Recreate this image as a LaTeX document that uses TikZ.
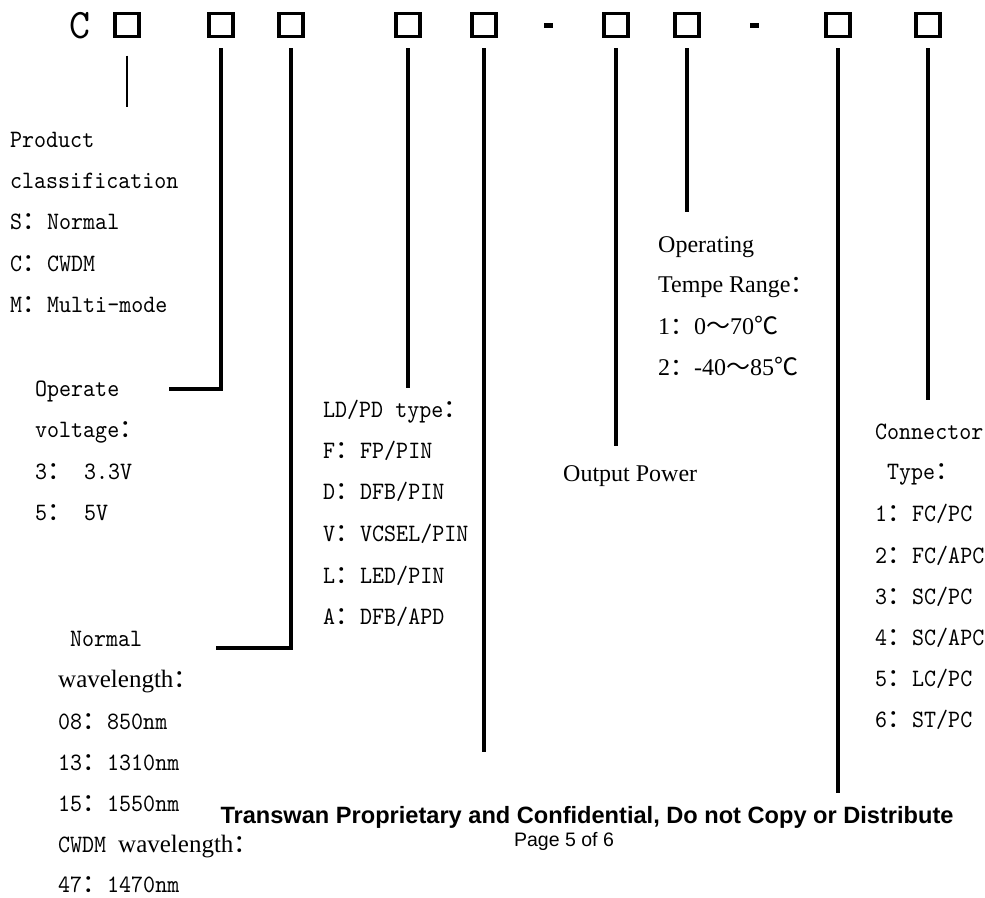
\documentclass[tikz,border=0pt]{standalone}
\usepackage{fontspec}
\usetikzlibrary{positioning}
\usetikzlibrary{calc}
\setmainfont{Liberation Serif}
\setsansfont{Liberation Sans}
\newfontfamily\codefont[FakeStretch=0.915]{lmmono10-regular.otf}
\newfontfamily\codebig[FakeStretch=0.95]{lmmono10-regular.otf}
\newfontfamily\cjk{Noto Sans CJK SC}
\newcommand{\fc}{\smash{\cjk ：}}
\newcommand{\wave}{\smash{\cjk ～}}
\newcommand{\degc}{\smash{\cjk ℃}}
\tikzstyle{slot}=[rectangle,draw,line width=3.2pt,minimum width=24pt,minimum height=23pt,inner sep=0pt]
\tikzstyle{dashbar}=[rectangle,fill=black,minimum width=9pt,minimum height=5pt,inner sep=0pt]
\tikzstyle{lead}=[draw,line width=3.8pt,shorten <=10pt]
\tikzstyle{codetext}=[anchor=base west,inner sep=0pt,font=\codefont\fontsize{25}{25}\selectfont]
\tikzstyle{romantext}=[anchor=base west,inner sep=0pt,font=\fontsize{24}{24}\selectfont]

\begin{document}
\begin{tikzpicture}[x=1pt,y=-1pt]
    \useasboundingbox (0,0) rectangle (985,897);

    % code row
    \node[inner sep=0pt,font=\codebig\fontsize{42}{42}\selectfont] (prefix) at (80,25.5) {C};
    \foreach \pos/\name in {127/s1, 221/s2, 291/s3, 408/s4, 484/s5, 616/s6, 687/s7, 838/s8, 928/s9}
        \node[slot] (\name) at (\pos,25) {};
    \node[dashbar] (d1) at (548,25) {};
    \node[dashbar] (d2) at (754,25) {};

    % lead ends
    \foreach \x/\y/\name in {127/107/e1, 169/389/e2, 216/648/e3, 408/388/e4, 484/752/e5, 616/446/e6, 687/212/e7, 838/793/e8, 928/400/e9}
        \coordinate (\name) at (\x,\y);

    \path[lead,line width=2.4pt,shorten <=17.5pt] (s1.south) -- (e1);
    \path[lead] (s2.south) |- (e2);
    \path[lead] (s3.south) |- (e3);
    \foreach \source/\dest in {s4/e4, s5/e5, s6/e6, s7/e7, s8/e8, s9/e9}
        \path[lead] (\source.south) -- (\dest);

    % product classification
    \foreach \pos/\name/\label in {{(10,147)/pc1/Product}, {(10,188)/pc2/classification}, {(10,229)/pc3/{S\fc Normal}}, {(10,271)/pc4/{C\fc CWDM}}, {(10,312)/pc5/{M\fc Multi-mode}}}
        \node[codetext] (\name) at \pos {\label};

    % voltage
    \foreach \pos/\name/\label in {{(35,396)/ov1/Operate}, {(35,437)/ov2/{voltage\fc}}, {(35,479)/ov3/{3\fc\ 3.3V}}, {(35,520)/ov4/{5\fc\ 5V}}}
        \node[codetext] (\name) at \pos {\label};

    % wavelength
    \foreach \pos/\name/\label in {{(70,646)/wl1/Normal}, {(58,687)/wl2/{\rmfamily wavelength\fc}}, {(58,729)/wl3/{08\fc 850nm}}, {(58,770)/wl4/{13\fc 1310nm}}, {(58,811)/wl5/{15\fc 1550nm}}, {(58,852)/wl6/{CWDM {\rmfamily wavelength}\fc}}, {(58,892)/wl7/{47\fc 1470nm}}}
        \node[codetext] (\name) at \pos {\label};

    % LD/PD type
    \foreach \pos/\name/\label in {{(323,417)/ld1/{LD/PD type\fc}}, {(323,458)/ld2/{F\fc FP/PIN}}, {(323,499)/ld3/{D\fc DFB/PIN}}, {(323,541)/ld4/{V\fc VCSEL/PIN}}, {(323,583)/ld5/{L\fc LED/PIN}}, {(323,624)/ld6/{A\fc DFB/APD}}}
        \node[codetext] (\name) at \pos {\label};

    % temperature and power
    \foreach \pos/\name/\label in {{(658,252)/tr1/Operating}, {(658,292)/tr2/{Tempe Range\fc}}, {(658,334)/tr3/{1\fc 0\wave 70\degc}}, {(658,375)/tr4/{2\fc -40\wave 85\degc}}, {(563,481)/op/{Output Power}}}
        \node[romantext] (\name) at \pos {\label};

    % connector
    \foreach \pos/\name/\label in {{(875,439)/ct1/Connector}, {(887,479)/ct2/{Type\fc}}, {(875,521)/ct3/{1\fc FC/PC}}, {(875,563)/ct4/{2\fc FC/APC}}, {(875,604)/ct5/{3\fc SC/PC}}, {(875,645)/ct6/{4\fc SC/APC}}, {(875,686)/ct7/{5\fc LC/PC}}, {(875,727)/ct8/{6\fc ST/PC}}}
        \node[codetext] (\name) at \pos {\label};

    % footer
    \node[anchor=base,inner sep=0pt,font=\sffamily\bfseries\fontsize{23.6}{23.6}\selectfont] (notice) at (587,823) {Transwan Proprietary and Confidential, Do not Copy or Distribute};
    \node[anchor=base,inner sep=0pt,font=\sffamily\fontsize{19.5}{19.5}\selectfont] (pageno) at (564,846) {Page 5 of 6};

\end{tikzpicture}
\end{document}
